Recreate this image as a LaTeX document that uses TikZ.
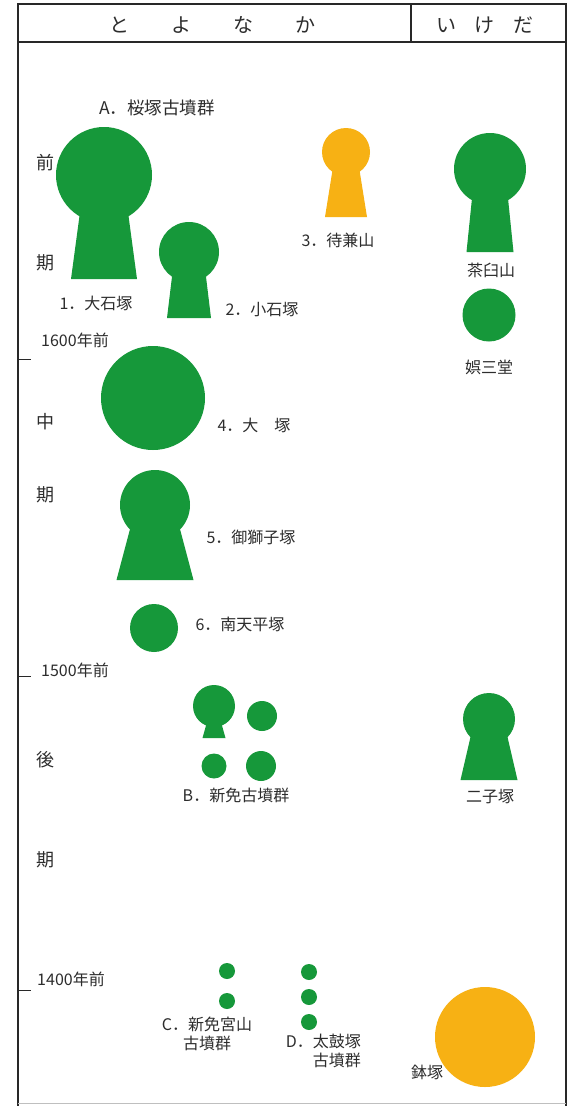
\documentclass[tikz,border=0pt]{standalone}
\usepackage{fontspec}
\newfontfamily\jp{Noto Sans CJK JP}
\definecolor{kgreen}{RGB}{22,152,58}
\definecolor{korange}{RGB}{247,177,20}
\definecolor{txt}{RGB}{45,45,45}
\definecolor{framec}{RGB}{40,40,40}
\newcommand\keyhole[7]{%
  \fill[#7] (#1,#2) circle (#3);
  \fill[#7] ({#1-#4},#2) -- ({#1+#4},#2) -- ({#1+#6},#5) -- ({#1-#6},#5) -- cycle;}
\begin{document}
\begin{tikzpicture}[x=1pt,y=-1pt,
  lbl/.style={font=\jp\fontsize{16}{18}\selectfont, text=txt, inner sep=0pt},
  big/.style={font=\jp\fontsize{17.5}{20}\selectfont, text=txt, inner sep=0pt},
  head/.style={font=\jp\fontsize{20}{22}\selectfont, text=txt, inner sep=0pt},
  per/.style={font=\jp\fontsize{18}{20}\selectfont, text=txt, inner sep=0pt},
  frameline/.style={draw=framec, line width=1.2pt},
  tick/.style={draw=framec, line width=1pt}]
\fill[white] (0,0) rectangle (575,1106);
\useasboundingbox (0,0) rectangle (575,1106);
% frame
\draw[frameline] (18,1106) -- (18,4) -- (566,4) -- (566,1106);
\draw[frameline] (18,42) -- (566,42);
\draw[frameline] (411,4) -- (411,42);
\draw[draw=black!25, line width=0.8pt] (18,1103) -- (566,1103);
% header
\node[head] (h1) at (212,25) {と\hspace{42pt}よ\hspace{42pt}な\hspace{42pt}か};
\node[head] (h2) at (484.5,25) {い\hspace{18.5pt}け\hspace{18.5pt}だ};
% periods
\node[per] (p1) at (45,163) {前};
\node[per] (p2) at (45,263) {期};
\node[per] (p3) at (45,422) {中};
\node[per] (p4) at (45,495) {期};
\node[per] (p5) at (45,760) {後};
\node[per] (p6) at (45,860) {期};
% time ticks
\coordinate (t1a) at (18,359); \coordinate (t1b) at (31,359);
\coordinate (t2a) at (18,676); \coordinate (t2b) at (31,676);
\coordinate (t3a) at (18,990); \coordinate (t3b) at (31,990);
\draw[tick] (t1a) -- (t1b);
\draw[tick] (t2a) -- (t2b);
\draw[tick] (t3a) -- (t3b);
\node[lbl] (y1600) at (75,340) {1600年前};
\node[lbl] (y1500) at (75,670) {1500年前};
\node[lbl] (y1400) at (71,979) {1400年前};
% Sakurazuka group
\node[big] (gA) at (157,108) {A．桜塚古墳群};
\keyhole{104}{175}{48}{19}{279}{33}{kgreen}
\node[lbl] (n1) at (96,303) {1．大石塚};
\keyhole{189}{252}{30}{14}{318}{22}{kgreen}
\node[lbl] (n2) at (262,310) {2．小石塚};
\keyhole{346}{152}{24}{10.6}{217}{21}{korange}
\node[lbl] (n3) at (338,240) {3．待兼山};
\keyhole{490}{169}{36}{15}{252}{23.5}{kgreen}
\node[lbl] (cha) at (491,270) {茶臼山};
\fill[kgreen] (489,315) circle (26.5);
\node[lbl] (go) at (489,367) {娯三堂};
\fill[kgreen] (153,398) circle (52);
\node[lbl] (n4) at (254,425) {4．大　塚};
\keyhole{155}{505}{35}{18.6}{580}{38.5}{kgreen}
\node[lbl] (n5) at (251,537) {5．御獅子塚};
\fill[kgreen] (154,628) circle (24);
\node[lbl] (n6) at (240,624) {6．南天平塚};
% Shinmen group
\keyhole{214}{706}{21}{2.5}{738}{11.5}{kgreen}
\fill[kgreen] (262,716) circle (15);
\fill[kgreen] (214,766) circle (12.5);
\fill[kgreen] (261,766) circle (15);
\node[lbl] (gB) at (236,795) {B．新免古墳群};
\keyhole{489}{719}{26}{14.3}{780}{28.5}{kgreen}
\node[lbl] (futa) at (490,797) {二子塚};
% C and D groups
\fill[kgreen] (227,971) circle (8);
\fill[kgreen] (227,1001) circle (8);
\node[lbl, align=center] (gC) at (207,1034) {C．新免宮山\\[1pt]古墳群};
\fill[kgreen] (309,972) circle (8);
\fill[kgreen] (309,997) circle (8);
\fill[kgreen] (309,1022) circle (8);
\node[lbl, align=right, anchor=east] (gD) at (361,1051) {D．太鼓塚\\[1pt]古墳群};
\fill[korange] (485,1037) circle (50);
\node[lbl] (hachi) at (427,1072) {鉢塚};
\end{tikzpicture}
\end{document}
